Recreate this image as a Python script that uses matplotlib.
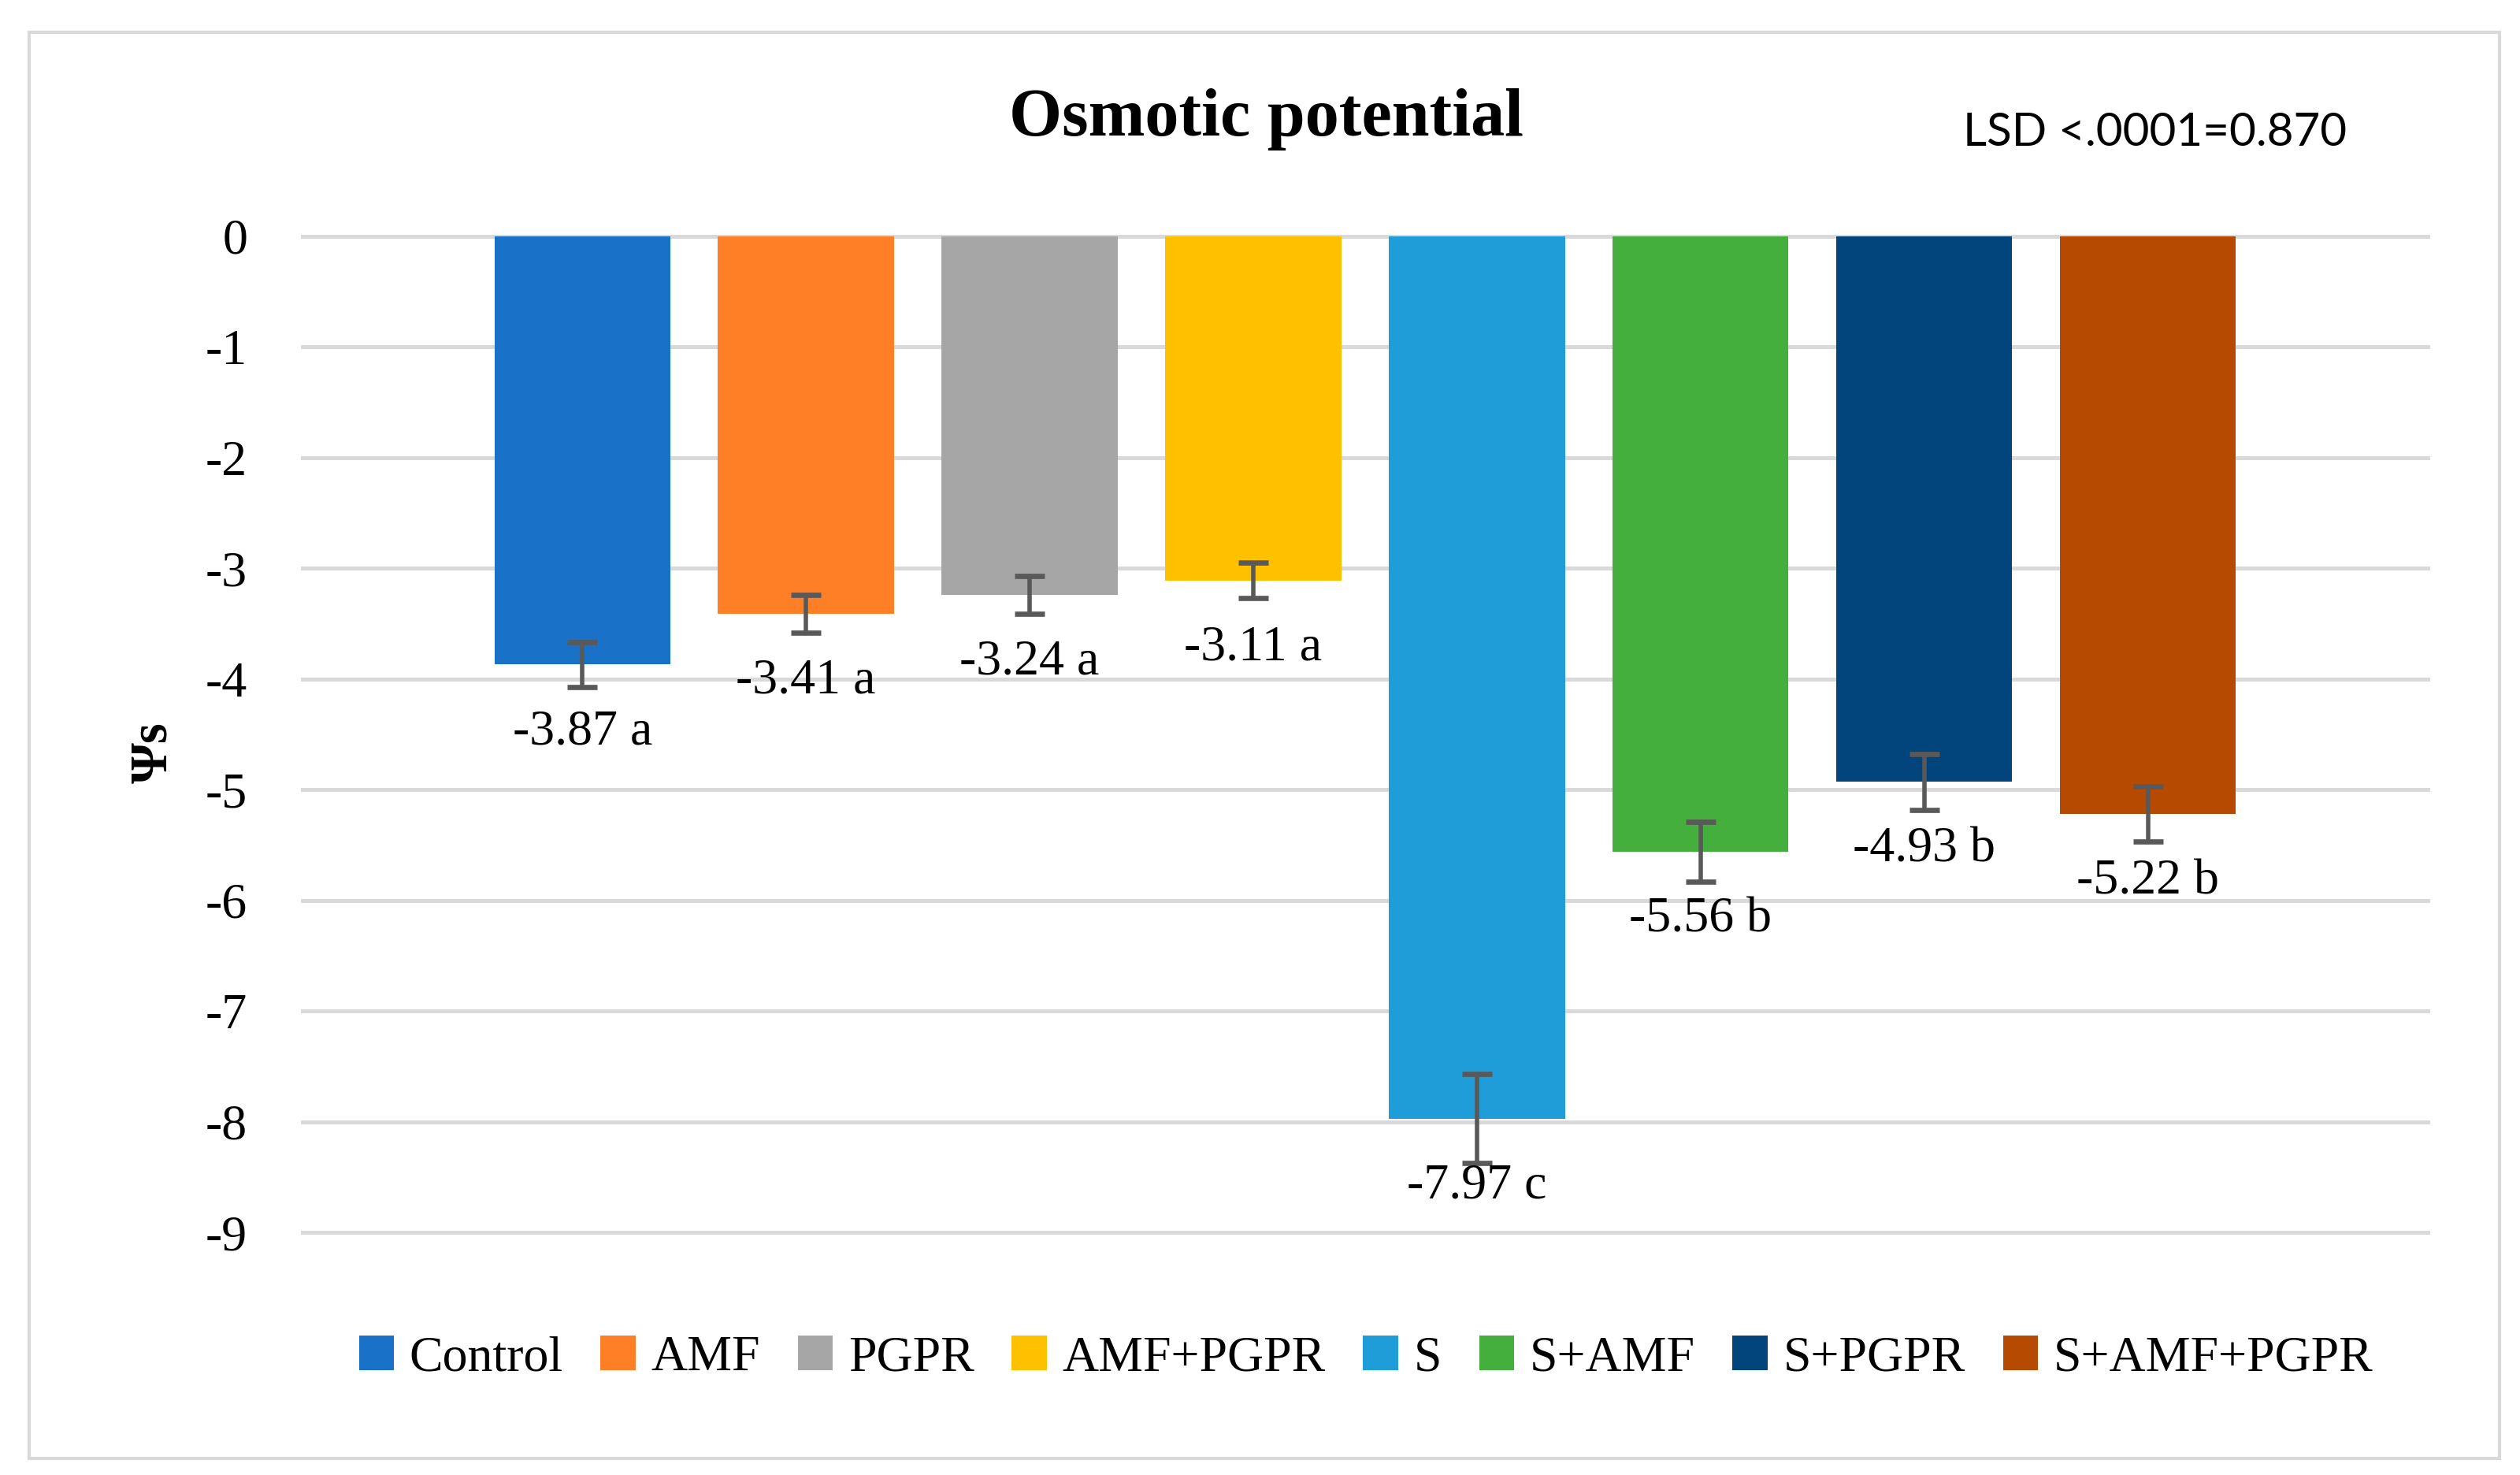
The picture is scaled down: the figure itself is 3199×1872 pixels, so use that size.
import matplotlib.pyplot as plt
from matplotlib.patches import Rectangle, Patch

treatments = ["Control", "AMF", "PGPR", "AMF+PGPR", "S", "S+AMF", "S+PGPR", "S+AMF+PGPR"]
psi_s = [-3.87, -3.41, -3.24, -3.11, -7.97, -5.56, -4.93, -5.22]
errors = [0.20, 0.17, 0.17, 0.16, 0.40, 0.27, 0.25, 0.25]
letters = ["a", "a", "a", "a", "c", "b", "b", "b"]
colors = ["#1A72C8", "#FF7F27", "#A6A6A6", "#FFC000",
          "#1E9DD9", "#44AF3C", "#02457C", "#B54A00"]
yticks = list(range(0, -10, -1))

serif = "Liberation Serif"

fig = plt.figure(figsize=(3199 / 200, 1872 / 200), dpi=200)
ax = fig.add_axes([0.1199, 0.1643, 0.9635 - 0.1199, 0.840 - 0.1643])

x = list(range(len(treatments)))
ax.bar(x, psi_s, width=0.787, color=colors, zorder=3)
ax.errorbar(x, psi_s, yerr=errors, fmt="none", ecolor="#595959",
            elinewidth=2.0, capsize=7, capthick=2.4, zorder=4)

for xi, v, let in zip(x, psi_s, letters):
    ax.annotate(f"{v:.2f} {let}", (xi, v), xytext=(0, -31), textcoords="offset points",
                ha="center", va="center", fontsize=23, family=serif, zorder=5)

ax.set_xlim(-1.253, len(treatments) - 1 + 1.253)
ax.set_ylim(-9, 0)
ax.set_yticks(yticks)
ax.set_yticklabels([str(t) for t in yticks], fontsize=23, family=serif)
ax.set_xticks([])
ax.tick_params(axis="y", length=0, pad=25)
ax.yaxis.grid(True, color="#D9D9D9", linewidth=1.8, zorder=0)
for line in ax.get_ygridlines():
    line.set_clip_on(False)
for s in ax.spines.values():
    s.set_visible(False)

fig.text(0.5026, 0.919, "Osmotic potential", ha="center", va="center",
         fontsize=31, fontweight="bold", family=serif)
fig.text(0.779, 0.910, "LSD <.0001=0.870", ha="left", va="center",
         fontsize=21, family="Lato")
fig.text(0.061, 0.49, "Ψs", ha="center", va="center", rotation=90,
         fontsize=24, fontweight="bold", family=serif)

handles = [Patch(facecolor=c, edgecolor="none") for c in colors]
fig.legend(handles, treatments, loc="center", bbox_to_anchor=(0.542, 0.079),
           ncol=8, frameon=False, prop={"family": serif, "size": 23},
           handlelength=0.7, handleheight=0.7, handletextpad=0.3, columnspacing=0.75)

fig.patches.append(Rectangle((0.0115, 0.011), 0.992 - 0.0115, 0.978 - 0.011,
                             transform=fig.transFigure, fill=False,
                             edgecolor="#D9D9D9", linewidth=1.5))

fig.savefig("out.png", dpi=200, facecolor="white")
